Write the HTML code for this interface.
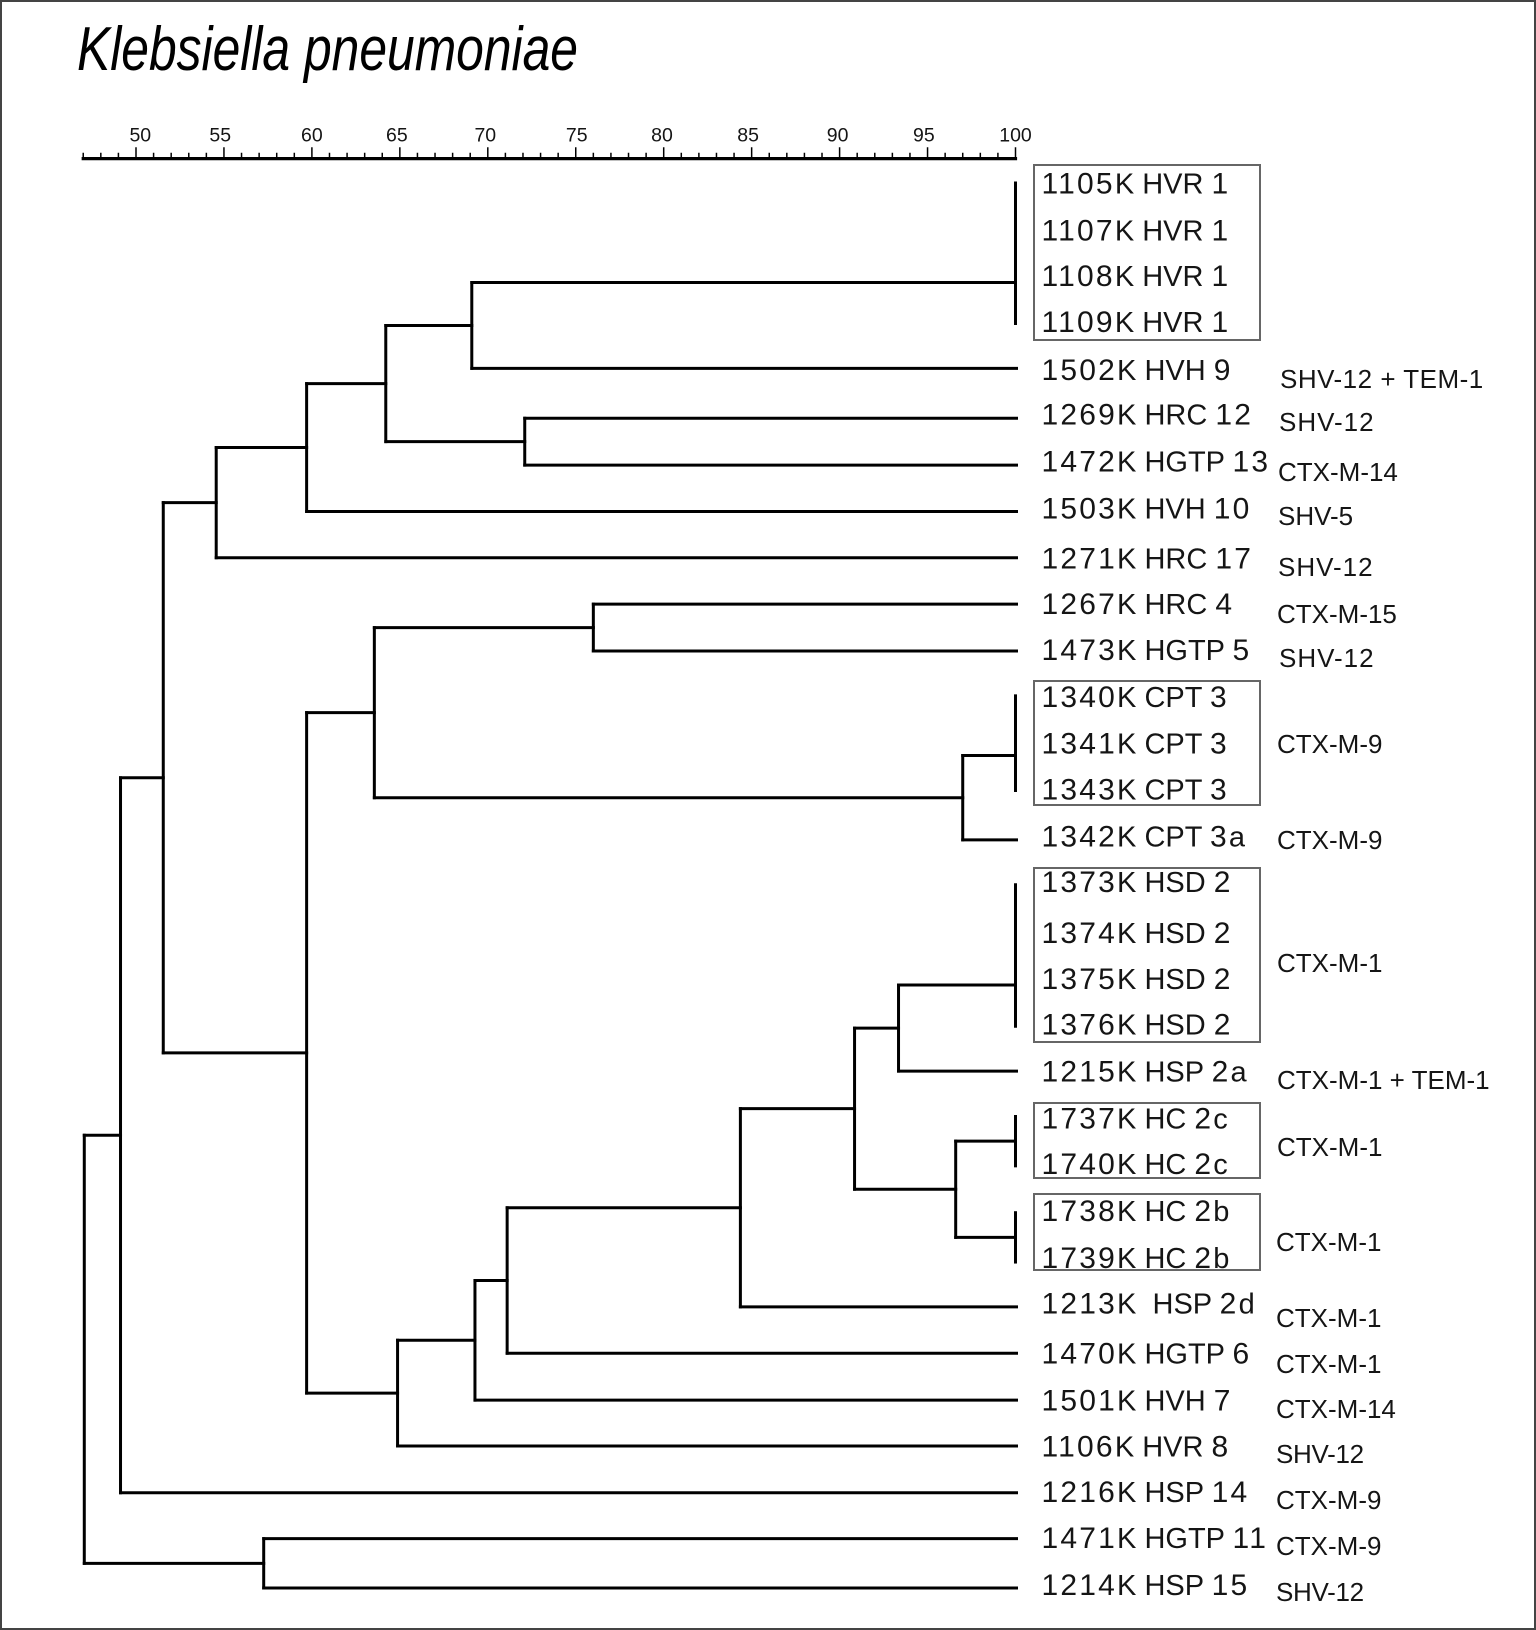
<!DOCTYPE html>
<html lang="en">
<head>
<meta charset="utf-8">
<title>Klebsiella pneumoniae dendrogram</title>
<style>
html,body{margin:0;padding:0;background:#fff;}
svg{display:block;}
text{font-family:"Liberation Sans",sans-serif;fill:#151515;white-space:pre;}
.gene{font-size:26px;}
.leaf-label{font-size:29px;}
.tick-label{font-size:19.5px;text-anchor:middle;}
</style>
</head>
<body>
<svg id="chart" xmlns="http://www.w3.org/2000/svg" width="1536" height="1630" viewBox="0 0 1536 1630">
  <rect x="1" y="1" width="1534" height="1628" fill="#fff" stroke="#444" stroke-width="2"/>
  <text x="77" y="70" font-size="62" font-style="italic" textLength="501" lengthAdjust="spacingAndGlyphs" style="fill:#000">Klebsiella pneumoniae</text>

  <g fill="none" stroke="#666" stroke-width="2">
    <rect x="1034" y="165" width="226" height="175"/>
    <rect x="1034" y="681" width="226" height="124"/>
    <rect x="1034" y="868" width="226" height="174"/>
    <rect x="1034" y="1103" width="226" height="75"/>
    <rect x="1034" y="1194" width="226" height="76"/>
  </g>

  <g id="axis"></g>
  <g id="tree"></g>
  <g id="labels"></g>

  <g>
    <text class="gene" x="1280" y="388" style="letter-spacing:.5px">SHV-12 + TEM-1</text>
    <text class="gene" x="1279" y="431" style="letter-spacing:1px">SHV-12</text>
    <text class="gene" x="1278" y="481">CTX-M-14</text>
    <text class="gene" x="1278" y="525">SHV-5</text>
    <text class="gene" x="1278" y="576" style="letter-spacing:1px">SHV-12</text>
    <text class="gene" x="1277" y="623">CTX-M-15</text>
    <text class="gene" x="1279" y="667" style="letter-spacing:1px">SHV-12</text>
    <text class="gene" x="1277" y="753">CTX-M-9</text>
    <text class="gene" x="1277" y="849">CTX-M-9</text>
    <text class="gene" x="1277" y="972">CTX-M-1</text>
    <text class="gene" x="1277" y="1089">CTX-M-1 + TEM-1</text>
    <text class="gene" x="1277" y="1156">CTX-M-1</text>
    <text class="gene" x="1276" y="1251">CTX-M-1</text>
    <text class="gene" x="1276" y="1327">CTX-M-1</text>
    <text class="gene" x="1276" y="1373">CTX-M-1</text>
    <text class="gene" x="1276" y="1418">CTX-M-14</text>
    <text class="gene" x="1276" y="1463" style="letter-spacing:-.3px">SHV-12</text>
    <text class="gene" x="1276" y="1509">CTX-M-9</text>
    <text class="gene" x="1276" y="1555">CTX-M-9</text>
    <text class="gene" x="1276" y="1601" style="letter-spacing:-.3px">SHV-12</text>
  </g>
</svg>

<script>
// ---- chart data ----
var isolates = [
  "1105K HVR 1","1107K HVR 1","1108K HVR 1","1109K HVR 1","1502K HVH 9",
  "1269K HRC 12","1472K HGTP 13","1503K HVH 10","1271K HRC 17","1267K HRC 4",
  "1473K HGTP 5","1340K CPT 3","1341K CPT 3","1343K CPT 3","1342K CPT 3a",
  "1373K HSD 2","1374K HSD 2","1375K HSD 2","1376K HSD 2","1215K HSP 2a",
  "1737K HC 2c","1740K HC 2c","1738K HC 2b","1739K HC 2b","1213K  HSP 2d",
  "1470K HGTP 6","1501K HVH 7","1106K HVR 8","1216K HSP 14","1471K HGTP 11","1214K HSP 15"
];
// Linkage table: ids below isolates.length are isolates; id n + k is the cluster from row k.
var mergeLeft  = [0,31,32,33,5,34,36,37,9,11,40,41,39,15,44,45,46,20,22,48,47,51,52,53,54,43,38,57,29,58];
var mergeRight = [1,2,3,4,6,35,7,8,10,12,13,14,42,16,17,18,19,21,23,49,50,24,25,26,27,55,56,28,30,59];
var mergeSimilarity = [100,100,100,69.09,72.1,64.2,59.7,54.56,76.0,100,100,97.0,63.55,100,100,100,93.35,100,100,96.6,90.85,84.36,71.1,69.27,64.87,59.7,51.55,49.12,57.26,47.06];
var axisTicks = [50,55,60,65,70,75,80,85,90,95,100];
var axisMin = 47;
var axisMax = 100;

// ---- layout ----
// Hand-placement offsets in the original figure (pixels), separate from the data above.
var rowShift = [0,0,0,0,-2,1,1,0.5,0,-0.5,-0.5,-2.5,0,-1.5,1,-1,-0.5,-0.5,0,-2,-3.5,-1,-1,1.5,-0.5,-1,-1,-2,-2,-3,-0.5];
var labelShift = [0,0,-1,-2,-1,-3,-3,-3,0,-1,-2,-2,-2,-3,-3,-4,0,-1,-2,-2,-2,-3,-3,-3,-4,-1,-1,-2,-3,-4,-4];
var tickLabelShift = [4.3,-3.7,0,-3,-2.5,1,-1.7,-3.5,-2,-3.7,0];
function x(s){ return 1015.5 - (100 - s) * 17.59; }
function y(i){ return 183 + i * 46.85; }

var NS = "http://www.w3.org/2000/svg";
var axisGroup = document.getElementById("axis");
var treeGroup = document.getElementById("tree");
var labelGroup = document.getElementById("labels");

function seg(parent, x1, y1, x2, y2, width){
  var el = document.createElementNS(NS, "line");
  el.setAttribute("x1", x1);
  el.setAttribute("y1", y1);
  el.setAttribute("x2", x2);
  el.setAttribute("y2", y2);
  el.setAttribute("stroke", "#000");
  el.setAttribute("stroke-width", width);
  el.setAttribute("stroke-linecap", "square");
  parent.appendChild(el);
  return el;
}

// ---- axis ----
var axisLine = seg(axisGroup, x(axisMin), 158.6, x(axisMax), 158.6, 3.2);


for (var v = axisMin; v <= axisMax; v++) {
  var isMajor = axisTicks.indexOf(v) >= 0;
  var tick = seg(axisGroup, x(v), isMajor ? 148 : 153.5, x(v), 158, 1.5);
  
  
}
axisTicks.forEach(function(t, idx){
  var lab = document.createElementNS(NS, "text");
  lab.setAttribute("class", "tick-label");
  lab.setAttribute("x", x(t) + tickLabelShift[idx]);
  lab.setAttribute("y", 141.5);
  lab.textContent = String(t);
  
  
  axisGroup.appendChild(lab);
});

// ---- tree ----
var n = isolates.length;
var nodeY = [];
var nodeSim = [];
isolates.forEach(function(name, i){
  nodeY[i] = y(i) + rowShift[i];
  nodeSim[i] = 100;
});
function branchEnd(id){
  // singleton leaves overshoot the 100 line slightly
  return id < n ? x(100) + 1 : x(nodeSim[id]);
}
mergeSimilarity.forEach(function(s, k){
  var id = n + k;
  var a = mergeLeft[k];
  var b = mergeRight[k];
  nodeY[id] = (nodeY[a] + nodeY[b]) / 2;
  nodeSim[id] = s;
  var stem = seg(treeGroup, x(s), nodeY[a], x(s), nodeY[b], 3);
  
  
  [a, b].forEach(function(c){
    if (s < 100) {
      var arm = seg(treeGroup, x(s), nodeY[c], branchEnd(c), nodeY[c], 3);
      
      
    }
  });
});

// ---- isolate labels (digits are larger and tracked wider than letters in the original) ----
isolates.forEach(function(name, i){
  var t = document.createElementNS(NS, "text");
  t.setAttribute("class", "leaf-label");
  t.setAttribute("x", 1041.5);
  t.setAttribute("y", y(i) + labelShift[i] * 1.04 + 10.5);
  
  
  name.split(/(\d+)/).forEach(function(part){
    if (!part) return;
    var sp = document.createElementNS(NS, "tspan");
    sp.textContent = part;
    if (/^\d/.test(part)) {
      sp.setAttribute("letter-spacing", "2.2");
      sp.setAttribute("font-size", "30");
    }
    
    
    t.appendChild(sp);
  });
  labelGroup.appendChild(t);
});
</script>
</body>
</html>
